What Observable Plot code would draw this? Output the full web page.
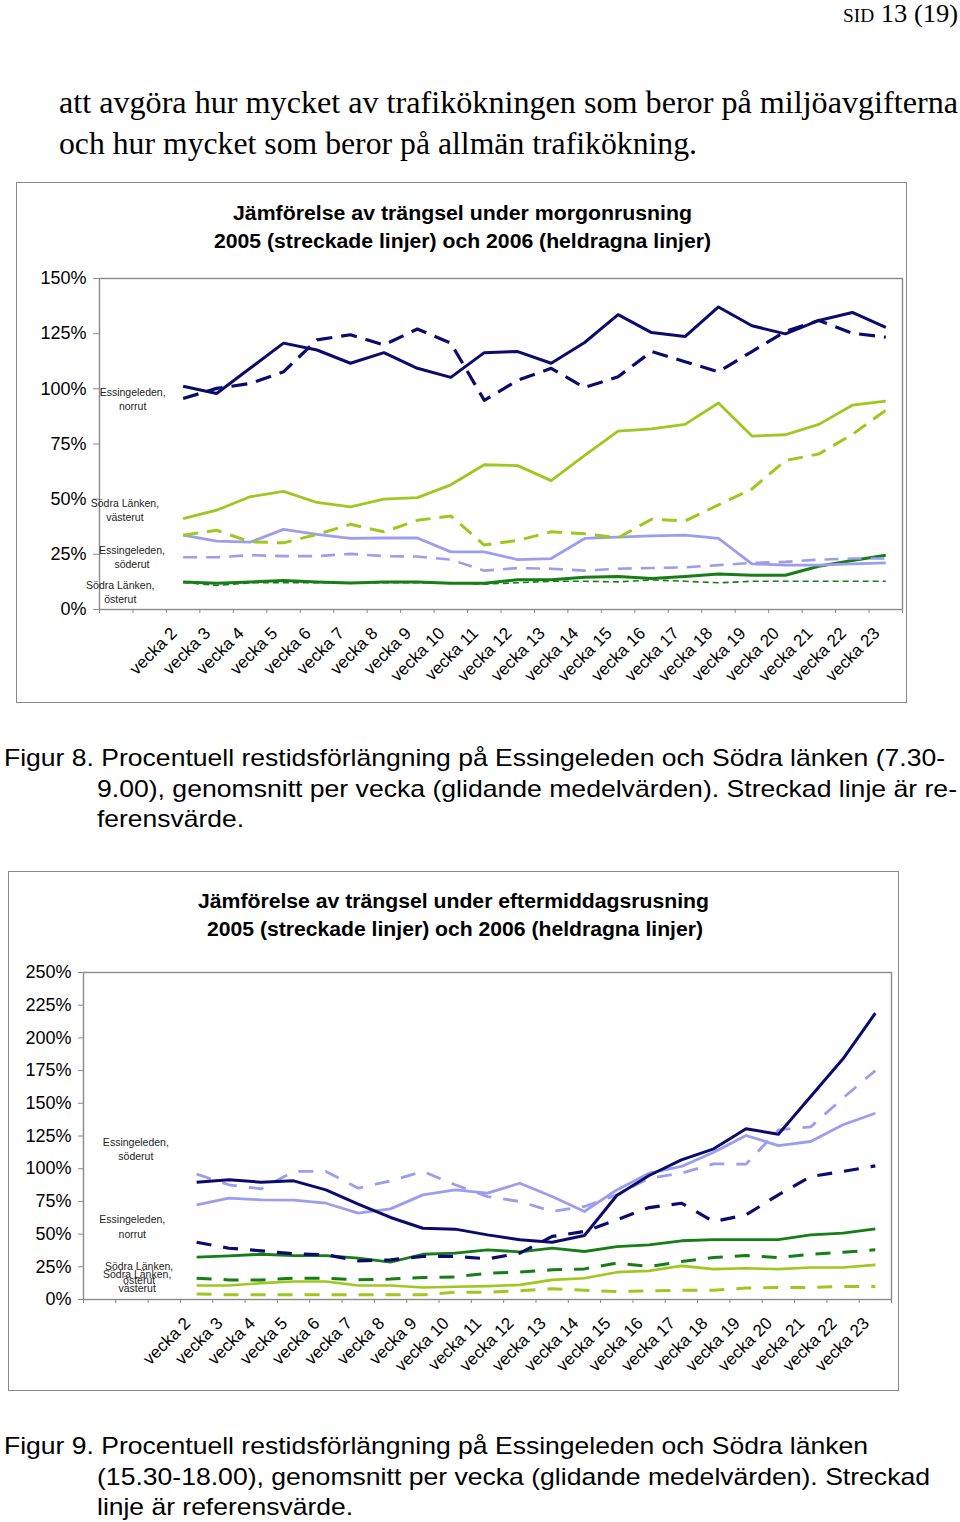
<!DOCTYPE html>
<html>
<head>
<meta charset="utf-8">
<script src="https://cdn.jsdelivr.net/npm/d3@7"></script>
<script src="https://cdn.jsdelivr.net/npm/@observablehq/plot@0.6"></script>
<style>
  html, body { margin: 0; padding: 0; background: #fff; }
  body { width: 960px; height: 1522px; position: relative; overflow: hidden; }
  .chart { position: absolute; }
  .box { position: absolute; border: 1.5px solid #8a8a8a; box-sizing: border-box; pointer-events: none; }
  #overlay { position: absolute; left: 0; top: 0; pointer-events: none; }
  .serif { font-family: "Liberation Serif", "Times New Roman", Times, serif; }
  .sans { font-family: "Liberation Sans", Arial, Helvetica, sans-serif; }
</style>
</head>
<body>
<div id="c1" class="chart" style="left:17px; top:183px;"></div>
<div id="c2" class="chart" style="left:9px; top:872px;"></div>
<div class="box" style="left:16px; top:182px; width:891px; height:521px;"></div>
<div class="box" style="left:8px; top:871px; width:891px; height:520px;"></div>
<script>
// ---------------- DATA ----------------
const weeks = [2, 3, 4, 5, 6, 7, 8, 9, 10, 11, 12, 13, 14, 15, 16, 17, 18, 19, 20, 21, 22, 23];

// Figur 8: morgonrusning (percent)
const morEssNorrut2006 = [101.2, 97.9, 109.3, 120.7, 117.6, 111.6, 116.4, 109.3, 105.2, 116.4, 116.9, 111.6, 121.0, 133.6, 125.5, 123.7, 137.1, 128.6, 124.9, 131.0, 134.6, 127.8];
const morEssNorrut2005 = [95.6, 100.2, 102.4, 107.7, 122.2, 124.5, 119.9, 127.1, 120.7, 94.8, 103.9, 109.3, 100.6, 105.5, 116.9, 112.3, 107.7, 116.9, 126.0, 131.0, 125.2, 123.4];
const morSLVasterut2006 = [41.2, 45.0, 51.1, 53.5, 48.5, 46.5, 50.0, 50.7, 56.5, 65.6, 65.2, 58.4, 69.8, 80.8, 81.9, 83.9, 93.6, 78.6, 79.2, 83.9, 92.6, 94.4];
const morSLVasterut2005 = [33.7, 35.9, 30.7, 30.2, 34.0, 38.6, 35.2, 40.4, 42.4, 29.2, 31.3, 35.2, 34.3, 32.5, 40.9, 40.1, 47.4, 54.6, 67.5, 70.5, 79.3, 90.3];
const morEssSoderut2006 = [33.7, 31.0, 30.5, 36.3, 34.0, 32.2, 32.4, 32.4, 26.1, 26.1, 22.6, 23.1, 32.2, 32.8, 33.4, 33.7, 32.2, 20.7, 20.1, 20.1, 20.7, 21.1];
const morEssSoderut2005 = [23.7, 23.7, 24.6, 24.2, 24.2, 25.2, 24.2, 24.0, 22.6, 17.6, 18.8, 18.5, 17.6, 18.5, 18.8, 19.1, 20.1, 21.1, 21.6, 22.6, 23.1, 23.1];
const morSLOsterut2006 = [12.5, 11.9, 12.5, 13.1, 12.5, 12.0, 12.5, 12.5, 11.9, 11.9, 13.5, 13.5, 14.6, 15.0, 14.0, 15.0, 16.1, 15.5, 15.5, 19.6, 22.2, 24.6];
const morSLOsterut2005 = [12.3, 10.9, 12.1, 12.1, 12.1, 12.1, 12.1, 12.1, 12.1, 11.5, 12.1, 12.8, 12.8, 12.5, 13.4, 12.8, 12.1, 12.8, 12.8, 12.8, 12.8, 12.8];

// Figur 9: eftermiddagsrusning (percent)
const eftEssNorrut2006 = [89.7, 91.5, 89.7, 90.7, 83.8, 72.9, 62.7, 54.5, 53.8, 49.4, 45.6, 43.8, 48.9, 79.5, 94.8, 106.8, 115.2, 130.5, 126.4, 155.2, 184.0, 218.9];
const eftEssNorrut2005 = [43.8, 39.2, 37.2, 34.9, 34.2, 29.6, 30.3, 32.9, 32.9, 31.1, 35.4, 48.2, 52.0, 60.9, 70.3, 73.6, 59.6, 64.7, 80.0, 94.0, 97.9, 102.2];
const eftEssSoderut2006 = [72.4, 77.5, 76.2, 76.0, 73.6, 66.0, 69.3, 80.0, 83.8, 81.3, 88.9, 78.7, 67.3, 83.8, 96.6, 101.7, 112.6, 125.4, 117.7, 120.8, 133.6, 142.4];
const eftEssSoderut2005 = [95.8, 87.7, 84.6, 97.9, 97.9, 85.1, 90.7, 97.9, 87.7, 78.7, 74.9, 67.3, 71.1, 80.0, 92.7, 96.6, 103.7, 103.5, 129.7, 132.0, 154.0, 175.0];
const eftSLOsterut2006 = [32.4, 33.4, 34.6, 33.6, 33.6, 31.6, 28.5, 34.6, 35.4, 38.0, 36.4, 39.2, 36.7, 40.5, 41.8, 44.9, 45.8, 45.8, 45.8, 49.4, 50.7, 54.0];
const eftSLOsterut2005 = [16.3, 15.0, 15.0, 16.3, 16.3, 15.0, 15.6, 16.8, 17.3, 20.1, 21.0, 22.7, 23.4, 27.8, 25.2, 29.0, 32.1, 33.6, 32.1, 34.6, 36.1, 38.0];
const eftSLVasterut2006 = [10.7, 10.7, 12.5, 13.8, 13.8, 10.7, 10.7, 9.2, 9.7, 10.2, 11.2, 15.0, 16.3, 20.9, 21.9, 25.7, 23.2, 23.9, 23.2, 24.5, 24.5, 26.5];
const eftSLVasterut2005 = [4.3, 3.6, 3.6, 3.6, 3.6, 3.6, 3.6, 3.6, 5.6, 5.6, 6.6, 8.2, 7.1, 6.1, 6.6, 7.1, 7.1, 8.7, 9.2, 9.2, 10.0, 10.0];

// Series labels inside the plot (week position, percent)
const morLabelText = ["Essingeleden,\nnorrut", "Södra Länken,\nvästerut", "Essingeleden,\nsöderut", "Södra Länken,\nösterut"];
const morLabelX = [0.49, 0.26, 0.47, 0.12];
const morLabelY = [95.5, 45.4, 24.0, 8.2];
const eftLabelText = ["Essingeleden,\nsöderut", "Essingeleden,\nnorrut", "Södra Länken,\nösterut", "Södra Länken,\nvästerut"];
const eftLabelX = [0.12, 0.01, 0.22, 0.16];
const eftLabelY = [115.6, 56.2, 20.9, 14.5];

// Texts
const headerSmall = "SID";
const headerMain = " 13 (19)";
const paragraphLines = [
  "att avgöra hur mycket av trafikökningen som beror på miljöavgifterna",
  "och hur mycket som beror på allmän trafikökning."
];
const title1 = ["Jämförelse av trängsel under morgonrusning", "2005 (streckade linjer) och 2006 (heldragna linjer)"];
const title2 = ["Jämförelse av trängsel under eftermiddagsrusning", "2005 (streckade linjer) och 2006 (heldragna linjer)"];
const caption8 = [
  "Figur 8. Procentuell restidsförlängning på Essingeleden och Södra länken (7.30-",
  "9.00), genomsnitt per vecka (glidande medelvärden). Streckad linje är re-",
  "ferensvärde."
];
const caption9 = [
  "Figur 9. Procentuell restidsförlängning på Essingeleden och Södra länken",
  "(15.30-18.00), genomsnitt per vecka (glidande medelvärden). Streckad",
  "linje är referensvärde."
];

// ---------------- STYLES ----------------
const SANS = "Liberation Sans, Arial, Helvetica, sans-serif";
const NAVY = "#0b0b6c", YGREEN = "#9ec81f", LAV = "#9d9ded", DGREEN = "#177d17";

const morSeries = [
  {values: morSLOsterut2005, color: DGREEN, width: 1.6, dash: "6,4"},
  {values: morSLOsterut2006, color: DGREEN, width: 3, dash: null},
  {values: morEssSoderut2005, color: LAV, width: 2.6, dash: "14,9"},
  {values: morEssSoderut2006, color: LAV, width: 2.8, dash: null},
  {values: morSLVasterut2005, color: YGREEN, width: 3, dash: "15,9"},
  {values: morSLVasterut2006, color: YGREEN, width: 2.8, dash: null},
  {values: morEssNorrut2005, color: NAVY, width: 3.2, dash: "16,9"},
  {values: morEssNorrut2006, color: NAVY, width: 3, dash: null}
];
const eftSeries = [
  {values: eftSLVasterut2005, color: YGREEN, width: 3, dash: "15,12"},
  {values: eftSLVasterut2006, color: YGREEN, width: 2.6, dash: null},
  {values: eftSLOsterut2005, color: DGREEN, width: 3, dash: "15,12"},
  {values: eftSLOsterut2006, color: DGREEN, width: 2.8, dash: null},
  {values: eftEssSoderut2005, color: LAV, width: 2.8, dash: "15,12"},
  {values: eftEssSoderut2006, color: LAV, width: 2.8, dash: null},
  {values: eftEssNorrut2005, color: NAVY, width: 3.2, dash: "15,12"},
  {values: eftEssNorrut2006, color: NAVY, width: 3, dash: null}
];

function makeChart({series, labelText, labelX, labelY, xDomain, yMax, width, height, margins, tickSize, tickPadding}) {
  const yTicks = d3.range(0, yMax + 1, 25);
  const boundaries = d3.range(xDomain[0], xDomain[1] + 0.001, 1);
  const labels = labelText.map((t, i) => ({text: t, x: labelX[i], y: labelY[i]}));
  return Plot.plot({
    width, height,
    marginLeft: margins[0], marginTop: margins[1], marginRight: margins[2], marginBottom: margins[3],
    style: {fontFamily: SANS, color: "#000", background: "transparent", overflow: "visible"},
    x: {type: "linear", domain: xDomain},
    y: {type: "linear", domain: [0, yMax]},
    marks: [
      Plot.frame({stroke: "#8a8a8a", strokeWidth: 1.4}),
      Plot.axisY(yTicks, {tickFormat: d => d + "%", tickSize, tickPadding, fontSize: 18, stroke: "#8a8a8a", fill: "#000", label: null}),
      Plot.axisX(boundaries, {tickFormat: () => "", tickSize: 4, stroke: "#8a8a8a", label: null}),
      Plot.axisX(weeks, {tickFormat: d => "vecka " + d, tickSize: 0, tickPadding: 21, tickRotate: -45, dx: -9, fontSize: 17, fill: "#000", label: null}),
      ...series.map(s => Plot.line(weeks.map((w, i) => ({w, v: s.values[i]})), {
        x: "w", y: "v", stroke: s.color, strokeWidth: s.width,
        strokeDasharray: s.dash || undefined, strokeLinejoin: "round", strokeLinecap: "butt"
      })),
      Plot.text(labels, {x: "x", y: "y", text: "text", fontSize: 10.5, lineHeight: 1.35, fill: "#222", textAnchor: "middle"})
    ]
  });
}

document.getElementById("c1").appendChild(makeChart({
  series: morSeries, labelText: morLabelText, labelX: morLabelX, labelY: morLabelY,
  xDomain: [-0.5, 23.5], yMax: 150, width: 889, height: 519,
  margins: [82, 95, 4, 93], tickSize: 6, tickPadding: 7
}));
document.getElementById("c2").appendChild(makeChart({
  series: eftSeries, labelText: eftLabelText, labelX: eftLabelX, labelY: eftLabelY,
  xDomain: [-1.5, 23.5], yMax: 250, width: 889, height: 518,
  margins: [74, 100, 7, 91], tickSize: 5, tickPadding: 7
}));

// ---------------- PAGE TEXT ----------------
const overlay = d3.select("body").append("svg")
  .attr("id", "overlay").attr("width", 960).attr("height", 1522);

function addText(str, x, y, {size, cls = "sans", weight = "normal", anchor = "start", len = null}) {
  const t = overlay.append("text")
    .attr("class", cls)
    .attr("x", x).attr("y", y)
    .style("font-size", size + "px")
    .style("font-weight", weight)
    .attr("text-anchor", anchor)
    .attr("fill", "#000")
    .text(str);
  if (len) t.attr("textLength", len).attr("lengthAdjust", "spacingAndGlyphs");
  return t;
}

// header
const hdr = overlay.append("text").attr("class", "serif").attr("x", 958).attr("y", 21.5).attr("text-anchor", "end")
  .attr("fill", "#000").attr("textLength", 115).attr("lengthAdjust", "spacingAndGlyphs");
hdr.append("tspan").style("font-size", "19px").text(headerSmall);
hdr.append("tspan").style("font-size", "26px").text(headerMain);

// paragraph
addText(paragraphLines[0], 59, 113, {size: 32, cls: "serif", len: 899});
addText(paragraphLines[1], 59, 154, {size: 32, cls: "serif", len: 638});

// chart titles
addText(title1[0], 462.5, 220, {size: 20, weight: "bold", anchor: "middle", len: 459});
addText(title1[1], 462.5, 248, {size: 20, weight: "bold", anchor: "middle", len: 497});
addText(title2[0], 453.5, 908, {size: 20, weight: "bold", anchor: "middle", len: 511});
addText(title2[1], 455, 936, {size: 20, weight: "bold", anchor: "middle", len: 496});

// captions
addText(caption8[0], 4, 766, {size: 24, len: 941});
addText(caption8[1], 97, 797, {size: 24, len: 860});
addText(caption8[2], 97, 827, {size: 24, len: 147});
addText(caption9[0], 4, 1454, {size: 24, len: 864});
addText(caption9[1], 97, 1485, {size: 24, len: 833});
addText(caption9[2], 97, 1515, {size: 24, len: 256});
</script>
</body>
</html>
